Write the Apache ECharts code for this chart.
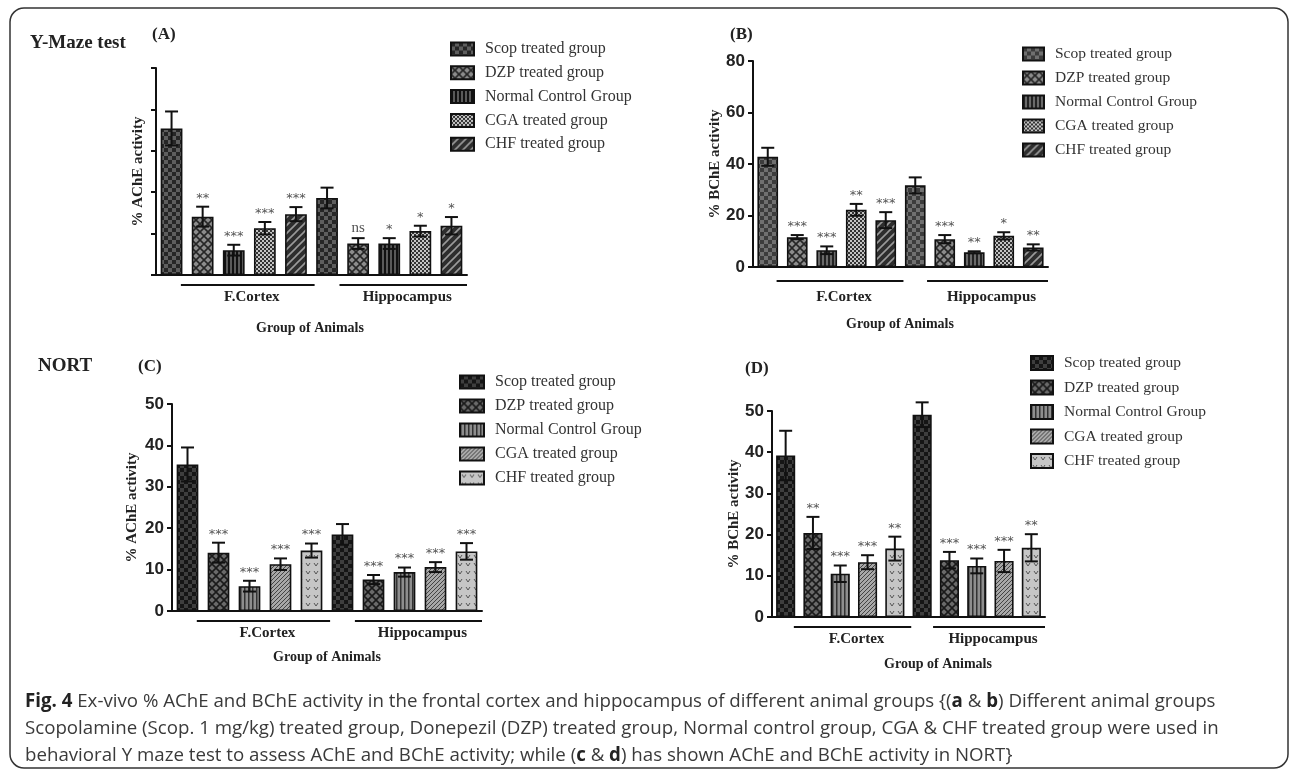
<!DOCTYPE html>
<html lang="en" style="height: 100%">
<head>
<meta charset="utf-8">
<title>Ex-vivo AChE and BChE activity</title>
</head>
<body style="height: 100%; margin: 0; background: #fff">
<div id="container" style="height: 100%"></div>

<script type="text/javascript" src="https://cdn.jsdelivr.net/npm/echarts@6/dist/echarts.min.js"></script>

<script type="text/javascript">

var dom = document.getElementById('container');
var myChart = echarts.init(dom, null, { width: 1295, height: 772 });

// categories: 5 groups in frontal cortex then 5 in hippocampus
var cats = ['FC Scop', 'FC DZP', 'FC Normal', 'FC CGA', 'FC CHF',
            'HC Scop', 'HC DZP', 'HC Normal', 'HC CGA', 'HC CHF'];
var groups = ['Scop treated group', 'DZP treated group', 'Normal Control Group',
              'CGA treated group', 'CHF treated group'];

// (A) Y-maze, AChE
var aMean = [35.4, 14.1, 6.0, 11.3, 14.7, 18.6, 7.6, 7.6, 10.6, 11.9];
var aSd   = [4.1, 2.4, 1.3, 1.5, 1.7, 2.5, 1.3, 1.3, 1.3, 2.1];
var aSig  = ['', '**', '***', '***', '***', '', 'ns', '*', '*', '*'];

// (B) Y-maze, BChE
var bMean = [42.8, 11.6, 6.5, 22.2, 18.2, 31.7, 10.8, 5.7, 12.1, 7.6];
var bSd   = [3.5, 0.8, 1.5, 2.3, 3.1, 3.1, 1.6, 0.4, 1.4, 1.2];
var bSig  = ['', '***', '***', '**', '***', '', '***', '**', '*', '**'];

// (C) NORT, AChE
var cMean = [35.4, 14.1, 6.0, 11.3, 14.6, 18.5, 7.6, 9.4, 10.6, 14.4];
var cSd   = [4.1, 2.4, 1.3, 1.4, 1.7, 2.5, 1.1, 1.1, 1.2, 2.0];
var cSig  = ['', '***', '***', '***', '***', '', '***', '***', '***', '***'];

// (D) NORT, BChE
var dMean = [39.2, 20.4, 10.5, 13.3, 16.6, 49.1, 13.8, 12.4, 13.6, 16.8];
var dSd   = [6.0, 3.9, 2.0, 1.7, 2.9, 3.0, 2.0, 1.8, 2.7, 3.3];
var dSig  = ['', '**', '***', '***', '**', '', '***', '***', '***', '**'];

var yMaxA = 50, yMaxB = 80, yMaxC = 50, yMaxD = 50;
var yStepA = 10, yStepB = 20, yStepC = 10, yStepD = 10;

var serif = '"Liberation Serif", "Times New Roman", serif';
var narrow = '"Liberation Sans Narrow", "Liberation Sans", Arial, sans-serif';

// ---- fill patterns ----
function pat(size, draw) {
    var c = document.createElement('canvas');
    c.width = size; c.height = size;
    draw(c.getContext('2d'), size);
    return { image: c, repeat: 'repeat' };
}
function checker(cell, a, b) {
    return pat(cell * 2, function (g, s) {
        g.fillStyle = a; g.fillRect(0, 0, s, s);
        g.fillStyle = b; g.fillRect(0, 0, cell, cell); g.fillRect(cell, cell, cell, cell);
    });
}
function cross(size, bg, ln, lw) {
    return pat(size, function (g, s) {
        g.fillStyle = bg; g.fillRect(0, 0, s, s);
        g.strokeStyle = ln; g.lineWidth = lw;
        g.beginPath();
        g.moveTo(0, 0); g.lineTo(s, s);
        g.moveTo(s, 0); g.lineTo(0, s);
        g.stroke();
    });
}
function vstripe(size, bg, ln, lw) {
    return pat(size, function (g, s) {
        g.fillStyle = bg; g.fillRect(0, 0, s, s);
        g.fillStyle = ln; g.fillRect(0, 0, lw, s);
    });
}
function diag(size, bg, ln, lw) {
    return pat(size, function (g, s) {
        g.fillStyle = bg; g.fillRect(0, 0, s, s);
        g.strokeStyle = ln; g.lineWidth = lw;
        g.beginPath();
        g.moveTo(-1, s + 1); g.lineTo(s + 1, -1);
        g.moveTo(-1, 1); g.lineTo(1, -1);
        g.moveTo(s - 1, s + 1); g.lineTo(s + 1, s - 1);
        g.stroke();
    });
}
function vmark(size, bg, ln) {
    return pat(size, function (g, s) {
        g.fillStyle = bg; g.fillRect(0, 0, s, s);
        g.strokeStyle = ln; g.lineWidth = 1;
        g.beginPath();
        g.moveTo(2, 3); g.lineTo(4, 6); g.lineTo(6, 3);
        g.stroke();
    });
}

var fillsA = [checker(4, '#5e5e5e', '#262626'), cross(8, '#8c8c8c', '#262626', 1.6),
              vstripe(4, '#5a5a5a', '#111', 2), checker(2, '#c4c4c4', '#333'),
              diag(8, '#2e2e2e', '#9a9a9a', 1.6)];
var fillsB = [checker(4, '#707070', '#3c3c3c'), cross(8, '#8c8c8c', '#262626', 1.6),
              vstripe(4, '#6a6a6a', '#222', 2), checker(2, '#c4c4c4', '#333'),
              diag(8, '#2e2e2e', '#9a9a9a', 1.6)];
var fillsCD = [checker(4, '#3e3e3e', '#151515'), cross(8, '#6a6a6a', '#1a1a1a', 1.6),
               vstripe(4, '#8e8e8e', '#333', 1.5), diag(4, '#a8a8a8', '#444', 1),
               vmark(8, '#c6c6c6', '#555')];

// ---- panel layout ----
var panels = [
    { key: 'A', mean: aMean, sd: aSd, sig: aSig, max: yMaxA, step: yStepA, fills: fillsA, showLabels: false,
      grid: { left: 156, top: 68, width: 311, height: 207 }, yName: '% AChE activity', nameGap: 10,
      legend: { left: 450, top: 41, font: 16, gap: 7.8, iw: 23, ih: 13 },
      brY: 10, grpY: 22, animals: [310, 328] },
    { key: 'B', mean: bMean, sd: bSd, sig: bSig, max: yMaxB, step: yStepB, fills: fillsB, showLabels: true,
      grid: { left: 753, top: 61, width: 295, height: 206 }, yName: '% BChE activity', nameGap: 27,
      legend: { left: 1022, top: 46, font: 15.5, gap: 8, iw: 21, ih: 13 },
      brY: 14, grpY: 30, animals: [900, 324] },
    { key: 'C', mean: cMean, sd: cSd, sig: cSig, max: yMaxC, step: yStepC, fills: fillsCD, showLabels: true,
      grid: { left: 172, top: 404, width: 310, height: 207 }, yName: '% AChE activity', nameGap: 32,
      legend: { left: 459, top: 374, font: 16, gap: 8, iw: 24, ih: 13 },
      brY: 10, grpY: 22, animals: [327, 657] },
    { key: 'D', mean: dMean, sd: dSd, sig: dSig, max: yMaxD, step: yStepD, fills: fillsCD, showLabels: true,
      grid: { left: 772, top: 411, width: 273, height: 206 }, yName: '% BChE activity', nameGap: 25,
      legend: { left: 1030, top: 355, font: 15.5, gap: 8.5, iw: 22, ih: 14 },
      brY: 10, grpY: 22, animals: [938, 664] }
];

function errRender(sig) {
    return function (params, api) {
        var i = api.value(0), m = api.value(1), s = api.value(2);
        var hi = api.coord([i, m + s]);
        var lo = api.coord([i, m - s]);
        var x = hi[0], cw = 6.5;
        var st = { stroke: '#111', lineWidth: 2 };
        var kids = [
            { type: 'line', shape: { x1: x, y1: lo[1], x2: x, y2: hi[1] }, style: st },
            { type: 'line', shape: { x1: x - cw, y1: hi[1], x2: x + cw, y2: hi[1] }, style: st },
            { type: 'line', shape: { x1: x - cw, y1: lo[1], x2: x + cw, y2: lo[1] }, style: st }
        ];
        var t = sig[params.dataIndex];
        if (t) {
            var isNs = t === 'ns';
            kids.push({ type: 'text', style: {
                x: x, y: hi[1] - (isNs ? 3 : 2), text: t, align: 'center', verticalAlign: 'bottom',
                font: isNs ? '15px ' + serif : '13px "DejaVu Sans", sans-serif', fill: '#555'
            } });
        }
        return { type: 'group', children: kids };
    };
}

var grids = [], xAxes = [], yAxes = [], series = [], legends = [], graphic = [];

panels.forEach(function (p, pi) {
    grids.push(Object.assign({ containLabel: false }, p.grid));
    xAxes.push({
        type: 'category', gridIndex: pi, data: cats,
        axisLine: { lineStyle: { color: '#111', width: 2 } },
        axisTick: { alignWithLabel: true, length: 6, lineStyle: { color: '#111', width: 2 } },
        axisLabel: { show: false }
    });
    yAxes.push({
        type: 'value', gridIndex: pi, min: 0, max: p.max, interval: p.step,
        name: p.yName, nameLocation: 'middle', nameGap: p.nameGap,
        nameTextStyle: { fontFamily: serif, fontWeight: 'bold', fontSize: 15, color: '#222' },
        axisLine: { show: true, lineStyle: { color: '#111', width: 2 } },
        axisTick: { show: true, length: 5, lineStyle: { color: '#111', width: 2 } },
        axisLabel: { show: p.showLabels, fontFamily: narrow, fontWeight: 'bold', fontSize: 17, color: '#222', margin: 8 },
        splitLine: { show: false }
    });
    var names = [];
    groups.forEach(function (gname, g) {
        var sname = gname + '|' + p.key;
        names.push(sname);
        series.push({
            type: 'bar', name: sname, xAxisIndex: pi, yAxisIndex: pi,
            barWidth: '70%', barGap: '-100%',
            itemStyle: { color: p.fills[g], borderColor: '#111', borderWidth: 1.6 },
            data: p.mean.map(function (v, i) { return i % 5 === g ? v : '-'; })
        });
    });
    series.push({
        type: 'custom', name: 'err' + p.key, xAxisIndex: pi, yAxisIndex: pi, clip: false, z: 5,
        renderItem: errRender(p.sig),
        data: p.mean.map(function (v, i) { return [i, v, p.sd[i]]; })
    });
    legends.push({
        data: names, orient: 'vertical', left: p.legend.left, top: p.legend.top, padding: 0,
        icon: 'rect', itemWidth: p.legend.iw, itemHeight: p.legend.ih, itemGap: p.legend.gap,
        selectedMode: false,
        formatter: function (n) { return n.split('|')[0]; },
        textStyle: { fontFamily: serif, fontSize: p.legend.font, color: '#333', lineHeight: p.legend.font,
                     padding: [0, 0, 0, 6] }
    });

    // region brackets and labels under the axis
    var g = p.grid, unit = g.width / 10, baseY = g.top + g.height;
    var spans = [[0.8, 5.1, 'F.Cortex'], [5.9, 10, 'Hippocampus']];
    spans.forEach(function (sp) {
        var x1 = g.left + sp[0] * unit, x2 = g.left + sp[1] * unit;
        graphic.push({ type: 'line', shape: { x1: x1, y1: baseY + p.brY, x2: x2, y2: baseY + p.brY },
                       style: { stroke: '#111', lineWidth: 1.8 } });
        graphic.push({ type: 'text', style: { x: (x1 + x2) / 2 + 4, y: baseY + p.grpY, text: sp[2],
                       align: 'center', verticalAlign: 'middle',
                       font: 'bold 15px ' + serif, fill: '#222' } });
    });
    graphic.push({ type: 'text', style: { x: p.animals[0], y: p.animals[1], text: 'Group of Animals',
                   align: 'center', verticalAlign: 'middle', font: 'bold 14px ' + serif, fill: '#222' } });
});

// panel titles
[['Y-Maze test', 30, 43, 19], ['(A)', 152, 35, 17], ['(B)', 730, 35, 17],
 ['NORT', 38, 366, 19], ['(C)', 138, 367, 17], ['(D)', 745, 369, 17]].forEach(function (t) {
    graphic.push({ type: 'text', style: { x: t[1], y: t[2], text: t[0], align: 'left', verticalAlign: 'middle',
                   font: 'bold ' + t[3] + 'px ' + serif, fill: '#222' } });
});

// caption
var capLines = [
    '{b|Fig. 4} Ex-vivo % AChE and BChE activity in the frontal cortex and hippocampus of different animal groups {({b|a} & {b|b}) Different animal groups',
    'Scopolamine (Scop. 1 mg/kg) treated group, Donepezil (DZP) treated group, Normal control group, CGA & CHF treated group were used in',
    'behavioral Y maze test to assess AChE and BChE activity; while ({b|c} & {b|d}) has shown AChE and BChE activity in NORT}'
];
capLines.forEach(function (line, i) {
    graphic.push({ type: 'text', style: {
        x: 25, y: 702 + i * 26.7, text: line, align: 'left', verticalAlign: 'middle',
        fontFamily: '"Open Sans", sans-serif', fontSize: 18.7, fill: '#3a3a3a',
        rich: { b: { fontFamily: '"Open Sans", sans-serif', fontSize: 18.7, fontWeight: 'bold', fill: '#222' } }
    } });
});

// outer rounded frame
graphic.push({ type: 'rect', shape: { x: 10, y: 8, width: 1278, height: 760, r: 14 },
               style: { fill: 'none', stroke: '#333', lineWidth: 1.5 }, z: -1 });

var option = {
    animation: false,
    backgroundColor: '#fff',
    grid: grids,
    xAxis: xAxes,
    yAxis: yAxes,
    legend: legends,
    series: series,
    graphic: graphic
};

if (option && typeof option === 'object') {
    myChart.setOption(option);
}

window.addEventListener('resize', myChart.resize);
</script>
</body>
</html>
